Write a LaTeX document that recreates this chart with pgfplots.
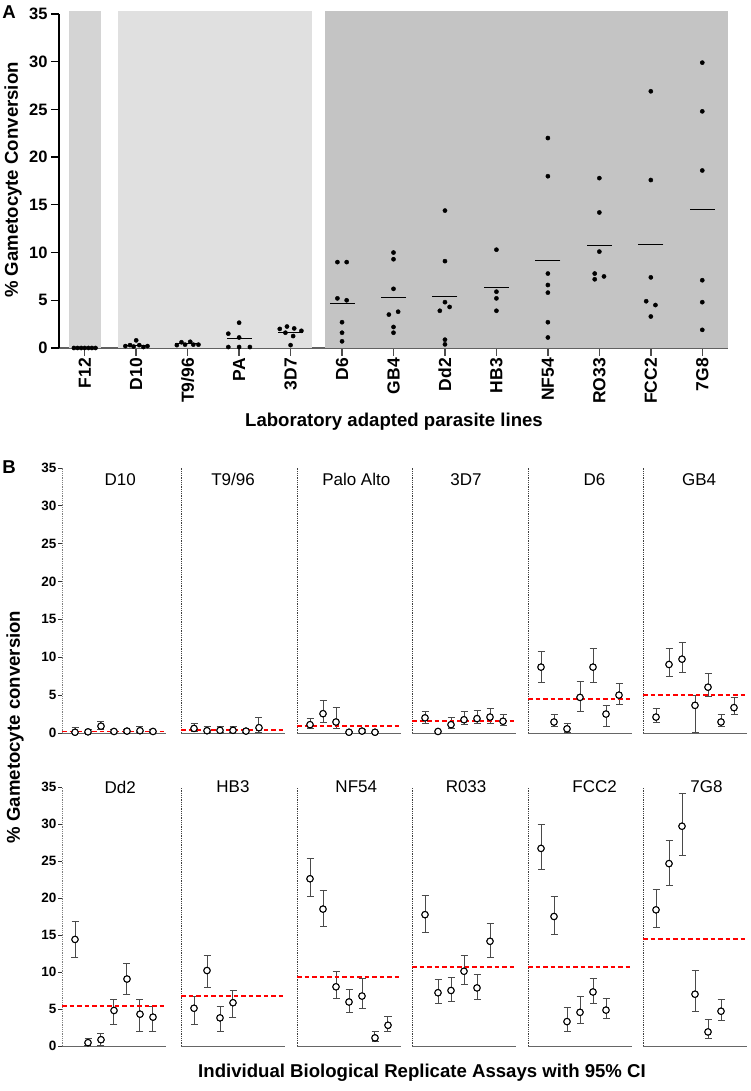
\documentclass[border=0pt]{standalone}
\usepackage{pgfplots}
\pgfplotsset{compat=1.18}
\usepackage{pgfplotstable}
\usepackage{fontspec}
\setmainfont{Liberation Sans}
\definecolor{shadeA}{HTML}{D4D4D4}
\definecolor{shadeB}{HTML}{E0E0E0}
\definecolor{shadeC}{HTML}{C4C4C4}
\definecolor{ebar}{HTML}{4A4A4A}
\definecolor{meanred}{HTML}{FF0000}

% ---------- Panel A data: category index, jitter offset, value ----------
\pgfplotstableread{
cat off y
0 -0.21 0
0 -0.14 0
0 -0.07 0
0 0 0
0 0.07 0
0 0.14 0
0 0.21 0
1 -0.21 0.2
1 -0.12 0.3
1 -0.05 0.15
1 0 0.8
1 0.06 0.3
1 0.14 0.1
1 0.22 0.2
2 -0.21 0.3
2 -0.12 0.6
2 -0.05 0.35
2 0.05 0.65
2 0.11 0.35
2 0.21 0.35
3 -0.21 1.5
3 0 2.65
3 0 1.1
3 -0.21 0.1
3 0 0.1
3 0.21 0.1
4 -0.21 2.0
4 -0.07 2.25
4 0.07 2.05
4 0.21 1.8
4 -0.1 1.6
4 0.05 1.25
4 0 0.3
5 -0.09 9.0
5 0.09 9.0
5 -0.09 5.2
5 0.09 5.0
5 0 2.7
5 0 1.6
5 0 0.7
6 0 10.0
6 0 9.3
6 0 6.2
6 -0.09 3.5
6 0.09 3.8
6 0 2.2
6 0 1.6
7 0 14.4
7 0 9.1
7 0 4.8
7 -0.1 3.9
7 0.09 4.3
7 0 0.87
7 0 0.38
8 0 10.3
8 0 5.9
8 0 5.2
8 0 3.9
9 0 22.0
9 0 18.0
9 0 7.8
9 0 6.6
9 0 5.8
9 0 2.7
9 0 1.1
10 0 17.8
10 0 14.2
10 0 10.1
10 -0.09 7.8
10 -0.09 7.2
10 0.09 7.5
11 0 26.9
11 0 17.6
11 0 7.4
11 -0.09 4.9
11 0.09 4.5
11 0 3.3
12 0 29.9
12 0 24.8
12 0 18.6
12 0 7.1
12 0 4.8
12 0 1.9
}\tA
\pgfplotstableread{
cat m
0 0
1 0.28
2 0.45
3 0.98
4 1.6
5 4.7
6 5.25
7 5.4
8 6.3
9 9.2
10 10.7
11 10.8
12 14.5
}\tAmean

% ---------- Panel B data: replicate, value, lower CI, upper CI ----------
\pgfplotstableread{
x y lo hi
1 0.1 0.0 0.7
2 0.15 0.0 0.4
3 0.9 0.5 1.5
4 0.2 0.0 0.45
5 0.25 0.0 0.5
6 0.3 0.0 0.8
7 0.2 0.0 0.45
}\tDten
\pgfplotstableread{
x y lo hi
1 0.6 0.2 1.2
2 0.3 0.0 0.9
3 0.35 0.0 0.8
4 0.35 0.0 0.9
5 0.25 0.0 0.5
6 0.7 0.0 2.0
}\tT
\pgfplotstableread{
x y lo hi
1 1.1 0.6 1.9
2 2.55 1.45 4.3
3 1.45 0.6 3.4
4 0.1 0.0 0.2
5 0.25 0.1 0.4
6 0.1 0.0 0.2
}\tPA
\pgfplotstableread{
x y lo hi
1 2.0 1.2 2.9
2 0.2 0.2 0.2
3 1.1 0.65 2.0
4 1.75 1.1 2.8
5 1.9 1.2 3.0
6 2.1 1.3 3.3
7 1.55 1.0 2.5
}\tThreeD
\pgfplotstableread{
x y lo hi
1 8.7 6.7 10.7
2 1.45 0.9 2.5
3 0.55 0.1 1.3
4 4.7 2.8 6.85
5 8.7 6.7 11.2
6 2.5 0.9 3.6
7 5.0 3.8 6.5
}\tDsix
\pgfplotstableread{
x y lo hi
1 2.1 1.45 3.25
2 9.05 7.4 11.1
3 9.75 8.0 11.9
4 3.65 0.1 5.0
5 6.05 4.8 7.8
6 1.45 0.9 2.5
7 3.35 2.4 4.7
}\tGB
\pgfplotstableread{
x y lo hi
1 14.4 11.9 16.85
2 0.45 0.1 1.0
3 0.85 0.0 1.7
4 4.8 2.9 6.35
5 9.05 7.0 11.2
6 4.3 2.0 6.35
7 3.9 2.0 5.4
}\tDd
\pgfplotstableread{
x y lo hi
1 5.1 2.9 6.75
2 10.2 7.9 12.2
3 3.8 2.0 5.3
4 5.85 3.9 7.5
}\tHB
\pgfplotstableread{
x y lo hi
1 22.6 20.2 25.4
2 18.5 16.2 21.0
3 8.0 6.4 10.0
4 5.95 4.55 7.7
5 6.75 5.0 9.1
6 1.1 0.55 1.9
7 2.8 1.9 4.0
}\tNF
\pgfplotstableread{
x y lo hi
1 17.75 15.3 20.4
2 7.2 5.7 9.0
3 7.5 6.0 9.3
4 10.1 8.3 12.2
5 7.85 6.3 9.7
6 14.15 12.0 16.6
}\tRO
\pgfplotstableread{
x y lo hi
1 26.7 23.8 29.9
2 17.5 15.1 20.2
3 3.3 2.0 5.2
4 4.55 3.0 6.65
5 7.3 5.8 9.15
6 4.85 3.7 6.45
}\tFCC
\pgfplotstableread{
x y lo hi
1 18.4 16.0 21.2
2 24.65 21.75 27.75
3 29.7 25.7 34.1
4 7.0 4.7 10.2
5 1.9 1.0 3.6
6 4.7 3.5 6.25
}\tSG

\pgfplotsset{
  bstyle/.style={
    anchor=south west, scale only axis, width=104pt,
    xmin=0, xmax=8, ymin=0, ymax=35, clip=false,
    axis x line*=bottom, axis y line*=left,
    x axis line style={-, draw=black!60, line width=0.9pt},
    y axis line style={-, densely dotted, draw=black!75, line width=0.8pt},
    xtick=\empty, ytick=\empty,
  },
  bdata/.style={
    only marks, mark=*, mark size=3.2pt,
    mark options={fill=white, draw=black, line width=1pt, solid},
    error bars/.cd, y dir=both, y explicit,
    error bar style={ebar, line width=1pt},
    error mark options={ebar, line width=1pt, mark size=3.5pt, rotate=90},
  },
  bticks/.style={
    ytick={0,5,...,35}, tick align=outside, major tick length=4pt,
    y tick style={draw=black!80, line width=0.8pt},
    y axis line style={-, densely dotted, draw=black!50, line width=0.9pt},
    /pgf/number format/assume math mode=true,
    yticklabel style={font=\bfseries\fontsize{13.5}{13.5}\selectfont, inner sep=1.5pt},
  },
}

% #1 left, #2 bottom, #3 height, #4 title, #5 title rel x, #6 title rel y, #7 table, #8 red mean, #9 extra options
\newcommand{\bpanel}[9]{%
\begin{axis}[bstyle, at={(#1pt,#2pt)}, height=#3pt, #9]
\addplot[bdata] table[x=x, y=y, y error plus expr=\thisrow{hi}-\thisrow{y}, y error minus expr=\thisrow{y}-\thisrow{lo}] {#7};
\addplot[meanred, line width=1.9pt, dash pattern=on 4.5pt off 3pt, mark=none, forget plot] table[row sep=\\] {x y\\ 0 #8\\ 8 #8\\};
\addplot[bdata] table[x=x, y=y] {#7};
\node[font=\fontsize{17}{17}\selectfont, inner sep=0pt] at (rel axis cs:#5,#6) {#4};
\end{axis}}

\begin{document}
\begin{tikzpicture}
\path[use as bounding box] (0,0) rectangle (750pt,1091pt);

% ================= Panel A =================
\begin{axis}[
  anchor=south west, at={(59pt,743pt)}, scale only axis,
  width=669pt, height=334pt,
  xmin=-0.5, xmax=12.5, ymin=0, ymax=35, clip=false,
  axis x line*=bottom, axis y line*=left,
  x axis line style={-, draw=black!62, line width=1.8pt},
  y axis line style={-, draw=black, line width=1.3pt},
  xtick={0,...,12},
  xticklabels={F12,D10,T9/96,PA,3D7,D6,GB4,Dd2,HB3,NF54,RO33,FCC2,7G8},
  ytick={0,5,...,35},
  tick align=outside, major tick length=8pt,
  x tick style={draw=black!70, line width=1.4pt},
  y tick style={draw=black, line width=1.3pt},
  /pgf/number format/assume math mode=true,
  yticklabel style={font=\bfseries\fontsize{16.5}{16.5}\selectfont},
  xticklabel style={rotate=90, anchor=east, inner sep=2pt, font=\bfseries\fontsize{17.5}{17.5}\selectfont},
]
\fill[shadeA] (axis cs:-0.31,0) rectangle (axis cs:0.31,35.3);
\fill[shadeB] (axis cs:0.64,0) rectangle (axis cs:4.42,35.3);
\fill[shadeC] (axis cs:4.67,0) rectangle (axis cs:12.5,35.3);
\addplot[only marks, mark=-, mark size=12.5pt, mark options={black, line width=1pt}] table[x=cat, y=m] {\tAmean};
\addplot[only marks, mark=*, mark size=2.1pt, black] table[x expr=\thisrow{cat}+\thisrow{off}, y=y] {\tA};
\end{axis}

\node[font=\bfseries\fontsize{18.6}{18.6}\selectfont] at (9pt,1079pt) {A};
\node[font=\bfseries\fontsize{18.6}{18.6}\selectfont, rotate=90] at (13pt,911pt) {\% Gametocyte Conversion};
\node[font=\bfseries\fontsize{18.6}{18.6}\selectfont] at (394pt,669pt) {Laboratory adapted parasite lines};

% ================= Panel B =================
\node[font=\bfseries\fontsize{18.6}{18.6}\selectfont] at (9pt,624pt) {B};
\node[font=\bfseries\fontsize{18.6}{18.6}\selectfont, rotate=90] at (15pt,364pt) {\% Gametocyte conversion};
\node[font=\bfseries\fontsize{18.6}{18.6}\selectfont] at (422pt,18pt) {Individual Biological Replicate Assays with 95\% CI};

% row 1
\bpanel{62}{358}{265}{D10}{0.56}{0.955}{\tDten}{0.2}{bticks}
\bpanel{181}{358}{265}{T9/96}{0.5}{0.955}{\tT}{0.4}{}
\bpanel{297}{358}{265}{Palo Alto}{0.57}{0.955}{\tPA}{0.9}{}
\bpanel{412}{358}{265}{3D7}{0.52}{0.955}{\tThreeD}{1.55}{}
\bpanel{528}{358}{265}{D6}{0.64}{0.955}{\tDsix}{4.5}{}
\bpanel{643}{358}{265}{GB4}{0.54}{0.955}{\tGB}{5.05}{}

% row 2
\bpanel{62}{45}{259}{Dd2}{0.56}{1.0}{\tDd}{5.35}{bticks}
\bpanel{181}{45}{259}{HB3}{0.5}{1.0}{\tHB}{6.8}{}
\bpanel{297}{45}{259}{NF54}{0.57}{1.0}{\tNF}{9.35}{}
\bpanel{412}{45}{259}{R033}{0.52}{1.0}{\tRO}{10.7}{}
\bpanel{528}{45}{259}{FCC2}{0.64}{1.0}{\tFCC}{10.7}{}
\bpanel{643}{45}{259}{7G8}{0.61}{1.0}{\tSG}{14.4}{}

\end{tikzpicture}
\end{document}
